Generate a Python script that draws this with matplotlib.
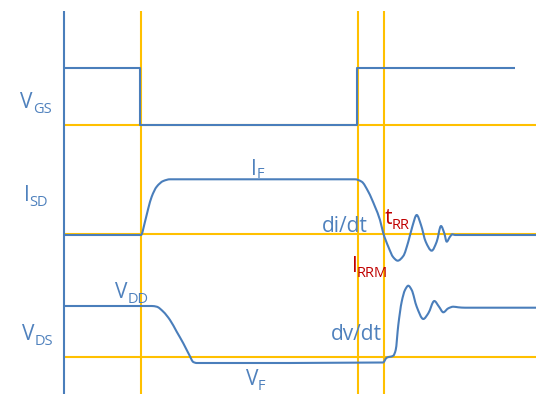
import matplotlib
matplotlib.use("Agg")
import matplotlib.pyplot as plt
import numpy as np
from matplotlib.path import Path
from matplotlib.patches import PathPatch

# ---- data (time axis units, signal level units; level axis points downward) ----
axis_x = 64.3
axis_top, axis_bottom = 11, 394
x_end = 536

# yellow reference markers
marker_times = [140.5, 357.5, 383.5]
marker_levels = [124.5, 234.3, 357.3]

# V_GS gate drive (ideal steps)
vgs_t = [64, 140, 140, 357, 357, 515]
vgs_v = [68, 68, 124.5, 124.5, 68, 68]

# I_SD diode current
isd_t = [64, 141, 145, 148.3, 151.7, 156.7, 163.3, 170, 355, 361.7, 368.3, 375,
         380, 383.3, 388.3, 393.3, 397.7, 403.3, 408.3, 412.3, 416.7,
         421, 425.7, 431.7, 436.7, 441, 444.3, 446.7, 450, 452.3,
         455, 465, 536]
isd_v = [235, 235, 221.7, 208.3, 196.7, 186.7, 181, 179.3, 179.3, 181.7, 191.7, 206.7,
         220, 233.3, 246.7, 257.3, 260.7, 256, 241.7, 226.7, 215,
         225, 241.7, 250.7, 241.7, 226, 233.3, 241.7, 236.7, 234.3,
         235, 235, 235]

# V_DS drain-source voltage
vds_t = [64, 151.7, 156.7, 163.3, 170, 176.7, 183.3, 189.3, 193.3, 196.7, 383,
         386.7, 393.3, 395.7, 398.3, 401.7, 405, 408.3, 411.7, 416.7, 423.3, 428.3,
         434.3, 439, 443.3, 448.3, 453.3, 458.3, 465, 536]
vds_v = [306, 306, 306.7, 311.7, 320, 331.7, 343.3, 355, 362, 363, 362.5,
         357.7, 355.7, 350, 325, 301.7, 290, 285.7, 290, 306.7, 319, 313.3,
         301, 306.7, 312.3, 308.3, 306.7, 307.3, 307.7, 307.7]

# labels: (main, sub, x_main, base_main, x_sub, base_sub, colour)
BLUE_T = "#4F81BD"
RED_T = "#C00000"
labels = [
    ("V", "GS", 20, 108, 33, 113, BLUE_T),
    ("I", "SD", 23.5, 201, 29, 206, BLUE_T),
    ("I", "F", 251, 175, 256.5, 178, BLUE_T),
    ("V", "DD", 115, 298, 128, 303, BLUE_T),
    ("V", "DS", 22, 340, 35, 345, BLUE_T),
    ("V", "F", 246.5, 385, 257.5, 390, BLUE_T),
    ("t", "RR", 384.5, 224, 392, 229, RED_T),
    ("I", "RRM", 352.5, 272, 357, 277, RED_T),
]
plain_labels = [("di/dt", 344.5, 232), ("dv/dt", 356, 340)]

# ---- drawing ----
LINE_BLUE = "#4A7EBB"
YELLOW = "#FFC000"
FONT = ["Open Sans", "DejaVu Sans"]


def smooth_path(t, y):
    """Monotone (Fritsch-Carlson) cubic through the read points as a Bezier path."""
    t = np.asarray(t, float)
    y = np.asarray(y, float)
    h = np.diff(t)
    d = np.diff(y) / h
    m = np.zeros_like(y)
    m[0], m[-1] = d[0], d[-1]
    for k in range(1, len(y) - 1):
        if d[k - 1] * d[k] <= 0:
            m[k] = 0.0
        else:
            w1 = 2 * h[k] + h[k - 1]
            w2 = h[k] + 2 * h[k - 1]
            m[k] = (w1 + w2) / (w1 / d[k - 1] + w2 / d[k])
    verts = [(t[0], y[0])]
    codes = [Path.MOVETO]
    for i in range(len(h)):
        verts += [(t[i] + h[i] / 3, y[i] + m[i] * h[i] / 3),
                  (t[i + 1] - h[i] / 3, y[i + 1] - m[i + 1] * h[i] / 3),
                  (t[i + 1], y[i + 1])]
        codes += [Path.CURVE4] * 3
    return Path(verts, codes)


fig = plt.figure(figsize=(5.36, 3.94), dpi=100)
ax = fig.add_axes([0, 0, 1, 1])
ax.set_xlim(0, 536)
ax.set_ylim(394, 0)
ax.axis("off")

for t in marker_times:
    ax.plot([t, t], [axis_top, axis_bottom], color=YELLOW, lw=1.5, zorder=2,
            solid_capstyle="butt")
for lv in marker_levels:
    ax.plot([axis_x, x_end], [lv, lv], color=YELLOW, lw=1.5, zorder=2,
            solid_capstyle="butt")

ax.plot([axis_x, axis_x], [axis_top, axis_bottom], color=LINE_BLUE, lw=1.5,
        zorder=3, solid_capstyle="butt")
ax.plot(vgs_t, vgs_v, color=LINE_BLUE, lw=1.5, zorder=3, solid_capstyle="butt")
for tt, vv in [(isd_t, isd_v), (vds_t, vds_v)]:
    ax.add_patch(PathPatch(smooth_path(tt, vv), fill=False, edgecolor=LINE_BLUE,
                           lw=1.5, zorder=3, capstyle="butt", joinstyle="round"))

for main, sub, xm, bm, xs, bs, col in labels:
    ax.text(xm, bm, main, fontsize=15, color=col, ha="left", va="baseline",
            family=FONT, zorder=4)
    ax.text(xs, bs, sub, fontsize=10.5, color=col, ha="left", va="baseline",
            family=FONT, zorder=4)
for s, x, b in plain_labels:
    ax.text(x, b, s, fontsize=15, color=BLUE_T, ha="center", va="baseline",
            family=FONT, zorder=4)

fig.savefig("out.png", dpi=100)
